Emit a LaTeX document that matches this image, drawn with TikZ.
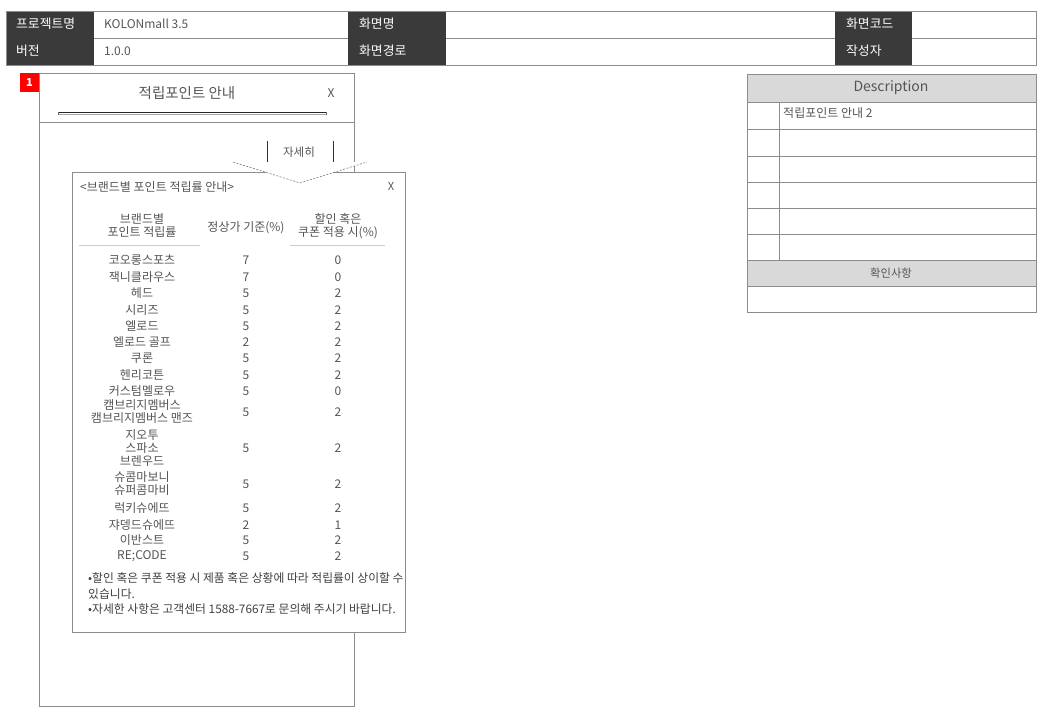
\documentclass[tikz,border=0pt]{standalone}
\usepackage{fontspec}
\setmainfont{Noto Sans CJK KR}
\usetikzlibrary{calc}
\definecolor{hdrdark}{HTML}{3A3A3A}
\definecolor{hdrline}{HTML}{8C8C8C}
\definecolor{descgray}{HTML}{D9D9D9}
\definecolor{txtgray}{HTML}{555555}

\begin{document}
\begin{tikzpicture}[x=1pt,y=-1pt,
	every node/.style={inner sep=0pt},
	lbl/.style={text=white,anchor=west,font=\fontsize{12.8}{14}\selectfont},
	val/.style={text=txtgray,anchor=west,font=\fontsize{12}{13}\selectfont},
	cell/.style={text=txtgray,align=center,font=\fontsize{12}{13}\selectfont},
	note/.style={text=black!75,anchor=west,font=\fontsize{11.8}{13}\selectfont},
	frameline/.style={draw=hdrline,line width=0.8pt}]
	\useasboundingbox (0,0) rectangle (1040,720);

	% header table
	\begin{scope}
		\fill[hdrdark] (6,11) rectangle (94,65);
		\fill[hdrdark] (348,11) rectangle (446,65);
		\fill[hdrdark] (835,11) rectangle (912,65);
		\draw[hdrline] (94,38) -- (348,38) (446,38) -- (835,38) (912,38) -- (1036,38);
		\draw[hdrline] (6,11) rectangle (1036,65);

		\newcommand\drawLabel[4]{\node[lbl] (#4) at (#1,#2) {#3};}
		\newcommand\drawValue[4]{\node[val] (#4) at (#1,#2) {#3};}

		\drawLabel{16}{24}{프로젝트명}{project}
		\drawLabel{16}{51}{버전}{version}
		\drawLabel{359}{24}{화면명}{screen}
		\drawLabel{359}{51}{화면경로}{path}
		\drawLabel{846}{24}{화면코드}{code}
		\drawLabel{846}{51}{작성자}{writer}
		\drawValue{104}{24}{KOLONmall 3.5}{projectval}
		\drawValue{104}{51}{1.0.0}{versionval}
	\end{scope}

	% phone frame
	\begin{scope}
		\draw[frameline] (39,73) rectangle (354,706);
		\draw[frameline] (39,122) -- (354,122);
		\fill[red] (20,73) rectangle (39,92);
		\node[text=white,font=\fontsize{11}{12}\selectfont\bfseries] (badge) at (29.5,82.5) {1};
		\node[text=txtgray,font=\fontsize{14.5}{16}\selectfont] (title) at (187,93) {적립포인트 안내};
		\node[text=txtgray,font=\fontsize{12}{14}\selectfont] (close) at (331,93) {X};
		\draw[black!85] (58,112) -- (326,112);
		\draw[black!35] (58,114.5) -- (326,114.5);
		\draw[black!60] (58,112) -- (58,114.5) (326,112) -- (326,114.5);

		\draw[black!80] (267,141) -- (267,162) (333,141) -- (333,162);
		\node[text=txtgray,font=\fontsize{11.5}{12}\selectfont] (more) at (299,152) {자세히};
	\end{scope}

	% popup
	\begin{scope}
		\draw[frameline,fill=white] (72,172) rectangle (405,632);
		\coordinate (tipL) at (233,162);
		\coordinate (tip) at (300,183);
		\coordinate (tipR) at (367,162);
		\fill[white] (tipL) -- (tip) -- (tipR) -- cycle;
		\draw[black!70,dash pattern=on 2pt off 1.5pt] (tipL) -- (tip) -- (tipR);

		\node[text=txtgray,anchor=west,font=\fontsize{12}{13}\selectfont] (poptitle) at (80,187) {<브랜드별 포인트 적립률 안내>};
		\node[text=txtgray,font=\fontsize{11}{12}\selectfont] (popclose) at (391,186) {X};

		\node[cell] (head1) at (142,226) {브랜드별\\포인트 적립률};
		\node[cell] (head2) at (246,228) {정상가 기준(\%)};
		\node[cell] (head3) at (338,226) {할인 혹은\\쿠폰 적용 시(\%)};
		\draw[black!20] (79,245) -- (200,245) (290,245) -- (385,245);

		\foreach \y/\brand/\a/\b [count=\i] in {
			260/코오롱스포츠/7/0, 277/잭니클라우스/7/0, 293/헤드/5/2,
			310/시리즈/5/2, 326/엘로드/5/2, 342/엘로드 골프/2/2,
			358/쿠론/5/2, 375/헨리코튼/5/2, 391/커스텀멜로우/5/0,
			412/{캠브리지멤버스\\캠브리지멤버스 맨즈}/5/2,
			448/{지오투\\스파소\\브렌우드}/5/2,
			484/{슈콤마보니\\슈퍼콤마비}/5/2,
			508/럭키슈에뜨/5/2, 525/쟈뎅드슈에뜨/2/1,
			540/이반스트/5/2, 556/RE;CODE/5/2}
		{
			\node[cell] (brand\i) at (142,\y) {\brand};
			\node[cell] (rate\i) at (246,\y) {\a};
			\node[cell] (sale\i) at (338,\y) {\b};
		}

		\begin{scope}
			\clip (72,172) rectangle (404,632);
			\node[note] (note1) at (88,578) {•할인 혹은 쿠폰 적용 시 제품 혹은 상황에 따라 적립률이 상이할 수};
			\node[note] (note2) at (88,594) {있습니다.};
			\node[note] (note3) at (88,609) {•자세한 사항은 고객센터 1588-7667로 문의해 주시기 바랍니다.};
		\end{scope}
	\end{scope}

	% description panel
	\begin{scope}
		\fill[descgray] (747,74) rectangle (1036,102);
		\fill[descgray] (747,260) rectangle (1036,286);
		\foreach \y in {102,129,156,182,208,234,260,286}
			\draw[hdrline] (747,\y) -- (1036,\y);
		\draw[hdrline] (779,102) -- (779,260);
		\draw[hdrline] (747,74) rectangle (1036,312);
		\node[text=txtgray,font=\fontsize{14}{15}\selectfont] (desc) at (891,88) {Description};
		\node[val] (desc1) at (783,113) {적립포인트 안내 2};
		\node[text=txtgray,font=\fontsize{11.3}{12}\selectfont] (check) at (891,273) {확인사항};
	\end{scope}
\end{tikzpicture}
\end{document}
